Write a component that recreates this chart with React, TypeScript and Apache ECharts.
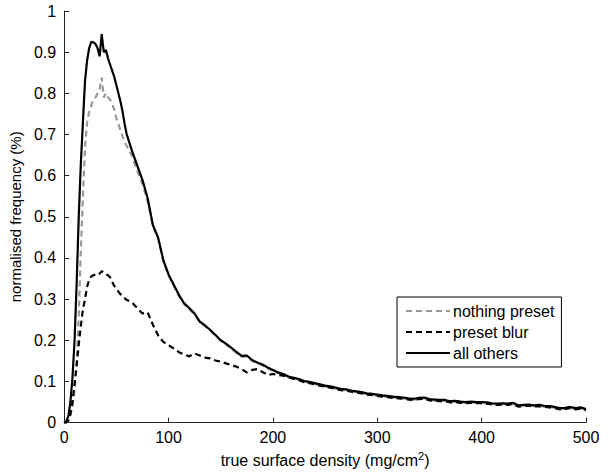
import React, { useEffect, useRef } from "react";
import * as echarts from "echarts";

const xGrid = [
  0, 2, 4, 6, 8, 10, 12, 14, 16, 18, 20, 22, 24, 26, 28, 30, 32, 34, 36, 38, 40, 42, 44, 46, 48, 50, 52, 54, 56, 58, 60,
  65, 70, 75, 80, 85, 90, 95, 100, 105, 110, 115,
  120, 125, 130, 135, 140, 145, 150, 155, 160, 165, 170, 175, 180, 185, 190, 195, 200, 205, 210, 215,
  220, 225, 230, 235, 240, 245, 250, 255, 260, 265, 270, 275, 280, 285, 290, 295, 300, 305, 310, 315,
  320, 325, 330, 335, 340, 345, 350, 355, 360, 365, 370, 375, 380, 385, 390, 395, 400, 405, 410, 415,
  420, 425, 430, 435, 440, 445, 450, 455, 460, 465, 470, 475, 480, 485, 490, 495, 500,
];

const allOthers = [
  0, 0.003, 0.015, 0.05, 0.11, 0.2, 0.34, 0.5, 0.63, 0.73, 0.83, 0.88, 0.91, 0.925, 0.924, 0.92, 0.91, 0.89, 0.944, 0.9,
  0.905, 0.885, 0.87, 0.855, 0.84, 0.82, 0.8, 0.78, 0.755, 0.725, 0.7,
  0.66, 0.625, 0.59, 0.545, 0.48, 0.45, 0.395, 0.36, 0.335, 0.31, 0.29,
  0.278, 0.265, 0.245, 0.236, 0.225, 0.213, 0.2, 0.192, 0.182, 0.172, 0.162, 0.163, 0.152, 0.146, 0.141, 0.134, 0.128, 0.122, 0.118, 0.112,
  0.109, 0.106, 0.101, 0.099, 0.096, 0.093, 0.09, 0.088, 0.085, 0.082, 0.081, 0.078, 0.076, 0.074, 0.071, 0.07, 0.068, 0.066, 0.065, 0.063,
  0.062, 0.061, 0.059, 0.058, 0.06, 0.061, 0.057, 0.056, 0.055, 0.055, 0.052, 0.053, 0.051, 0.05, 0.051, 0.05, 0.05, 0.049, 0.047, 0.046,
  0.047, 0.046, 0.048, 0.042, 0.043, 0.044, 0.042, 0.043, 0.041, 0.04, 0.038, 0.035, 0.036, 0.038, 0.035, 0.037, 0.033,
];

const nothingPreset = [
  0, 0, 0.005, 0.02, 0.04, 0.08, 0.14, 0.26, 0.42, 0.55, 0.67, 0.73, 0.755, 0.77, 0.785, 0.79, 0.8, 0.81, 0.838, 0.79,
  0.8, 0.79, 0.785, 0.775, 0.76, 0.74, 0.725, 0.71, 0.695, 0.68, 0.672,
  0.648, 0.612, 0.58, 0.538, 0.478, 0.447, 0.393, 0.358, 0.333, 0.307, 0.288,
  0.275, 0.263, 0.243, 0.234, 0.223, 0.211, 0.198, 0.19, 0.18, 0.17, 0.16, 0.16, 0.15, 0.144, 0.139, 0.132, 0.126, 0.12, 0.116, 0.11,
  0.107, 0.104, 0.099, 0.097, 0.094, 0.091, 0.088, 0.086, 0.083, 0.08, 0.079, 0.076, 0.074, 0.072, 0.069, 0.068, 0.066, 0.064, 0.063, 0.061,
  0.06, 0.059, 0.057, 0.056, 0.058, 0.059, 0.055, 0.054, 0.053, 0.053, 0.05, 0.051, 0.049, 0.048, 0.049, 0.048, 0.048, 0.047, 0.045, 0.044,
  0.045, 0.044, 0.046, 0.04, 0.041, 0.042, 0.04, 0.041, 0.039, 0.038, 0.036, 0.033, 0.034, 0.036, 0.033, 0.035, 0.031,
];

const presetBlur = [
  0, 0, 0.005, 0.02, 0.05, 0.094, 0.14, 0.19, 0.235, 0.275, 0.3, 0.33, 0.347, 0.355, 0.358, 0.36, 0.358, 0.362, 0.368, 0.365,
  0.36, 0.358, 0.353, 0.342, 0.332, 0.325, 0.318, 0.312, 0.306, 0.302, 0.298,
  0.292, 0.278, 0.265, 0.268, 0.238, 0.212, 0.196, 0.188, 0.18, 0.171, 0.165,
  0.161, 0.168, 0.163, 0.158, 0.156, 0.151, 0.148, 0.144, 0.14, 0.136, 0.13, 0.122, 0.128, 0.13, 0.123, 0.116, 0.118, 0.116, 0.114, 0.11,
  0.106, 0.103, 0.098, 0.096, 0.093, 0.09, 0.087, 0.085, 0.082, 0.079, 0.078, 0.075, 0.073, 0.071, 0.068, 0.067, 0.065, 0.063, 0.062, 0.06,
  0.059, 0.058, 0.056, 0.055, 0.057, 0.058, 0.054, 0.053, 0.052, 0.052, 0.049, 0.05, 0.048, 0.047, 0.048, 0.047, 0.047, 0.046, 0.044, 0.043,
  0.044, 0.043, 0.045, 0.039, 0.04, 0.041, 0.039, 0.04, 0.038, 0.037, 0.035, 0.032, 0.033, 0.035, 0.032, 0.034, 0.03,
];

const seriesNames = ["nothing preset", "preset blur", "all others"];

const FONT = "'Liberation Sans', Arial, Helvetica, sans-serif";
const INK = "#222";

function pairs(ys: number[]) {
  return xGrid.map((x, i) => [x, ys[i]]);
}

export default function App() {
  const ref = useRef<HTMLDivElement>(null);
  useEffect(() => {
    if (!ref.current) return;
    const chart = echarts.init(ref.current, undefined, { renderer: "svg" });
    chart.setOption({
      animation: false,
      backgroundColor: "#fff",
      textStyle: { fontFamily: FONT },
      grid: { left: 61, right: 24, top: 11, bottom: 47, containLabel: false },
      legend: {
        orient: "vertical",
        left: 397,
        top: 297,
        data: seriesNames,
        backgroundColor: "#fff",
        borderColor: "#000",
        borderWidth: 1,
        borderRadius: 0,
        padding: [6, 7, 6, 8],
        itemGap: 5,
        itemWidth: 44,
        itemHeight: 16,
        itemStyle: { opacity: 0 },
        textStyle: { fontFamily: FONT, fontSize: 16, color: "#000", padding: [0, 0, 0, -2] },
      },
      xAxis: {
        type: "value",
        min: 0,
        max: 500,
        interval: 100,
        name: "true surface density (mg/cm{sup|2})",
        nameLocation: "middle",
        nameGap: 25,
        nameTextStyle: {
          fontFamily: FONT,
          fontSize: 16,
          color: "#000",
          rich: { sup: { fontSize: 11, verticalAlign: "top", padding: [0, 0, 8, 0], fontFamily: FONT, color: "#000" } },
        },
        axisLine: { show: true, lineStyle: { color: INK, width: 1 } },
        axisTick: { show: true, inside: true, length: 5, lineStyle: { color: INK } },
        axisLabel: { fontFamily: FONT, fontSize: 16, color: "#000", margin: 7 },
        splitLine: { show: false },
      },
      yAxis: {
        type: "value",
        min: 0,
        max: 1,
        interval: 0.1,
        name: "normalised frequency (%)",
        nameLocation: "middle",
        nameGap: 34,
        nameTextStyle: { fontFamily: FONT, fontSize: 15, color: "#000" },
        axisLine: { show: true, lineStyle: { color: INK, width: 1 } },
        axisTick: { show: true, inside: true, length: 5, lineStyle: { color: INK } },
        axisLabel: { fontFamily: FONT, fontSize: 16, color: "#000", margin: 8 },
        splitLine: { show: false },
      },
      series: [
        {
          name: seriesNames[0],
          type: "line",
          data: pairs(nothingPreset),
          showSymbol: false,
          symbol: "none",
          lineStyle: { color: "#999", width: 2.2, type: [6, 4] },
          itemStyle: { color: "#999" },
          z: 2,
        },
        {
          name: seriesNames[1],
          type: "line",
          data: pairs(presetBlur),
          showSymbol: false,
          symbol: "none",
          lineStyle: { color: "#000", width: 2.2, type: [6, 4] },
          itemStyle: { color: "#000" },
          z: 3,
        },
        {
          name: seriesNames[2],
          type: "line",
          data: pairs(allOthers),
          showSymbol: false,
          symbol: "none",
          lineStyle: { color: "#000", width: 2.2 },
          itemStyle: { color: "#000" },
          z: 4,
        },
      ],
    });
    return () => chart.dispose();
  }, []);
  return <div ref={ref} style={{ position: "absolute", left: 0, top: 0, width: 610, height: 473 }} />;
}
